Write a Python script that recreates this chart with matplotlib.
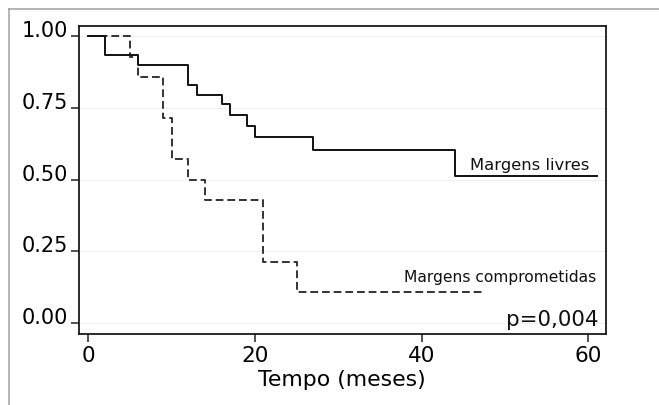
import matplotlib
matplotlib.use("Agg")
import matplotlib.pyplot as plt
from matplotlib.lines import Line2D

# Kaplan-Meier step data
livres_t = [0, 2, 6, 12, 13, 16, 17, 19, 20, 27, 44]
livres_s = [1.00, 0.935, 0.900, 0.830, 0.796, 0.763, 0.726, 0.686, 0.650, 0.603, 0.514]
livres_end = 61.1

compr_t = [0, 5, 6, 9, 10, 12, 14, 21, 25]
compr_s = [1.00, 0.929, 0.857, 0.714, 0.571, 0.500, 0.429, 0.214, 0.107]
compr_end = 47.6

x_ticks = [0, 20, 40, 60]
y_ticks = [0.00, 0.25, 0.50, 0.75, 1.00]
y_ticklabels = ["0.00", "0.25", "0.50", "0.75", "1.00"]

label_livres = "Margens livres"
label_compr = "Margens comprometidas"
p_text = "p=0,004"
x_label = "Tempo (meses)"

plt.rcParams['font.family'] = ['DejaVu Sans']

fig = plt.figure(figsize=(6.59, 4.06), dpi=100)
ax = fig.add_axes([0.1199, 0.1749, 0.7992, 0.7593])

# faint gridlines
for yv in y_ticks:
    ax.axhline(yv, color='#f0f0f0', lw=0.8, zorder=0)

ax.step(livres_t + [livres_end], livres_s + [livres_s[-1]], where='post',
        color='#111111', lw=1.4, zorder=3)
ax.step(compr_t + [compr_end], compr_s + [compr_s[-1]], where='post',
        color='#333333', lw=1.4, linestyle=(0, (4.0, 2.0)), zorder=2)

ax.set_xlim(-1.1, 62.1)
ax.set_ylim(-0.038, 1.037)

ax.set_xticks(x_ticks)
ax.set_xticklabels([str(v) for v in x_ticks])
ax.set_yticks(y_ticks)
ax.set_yticklabels(y_ticklabels)
ax.tick_params(axis='x', direction='out', length=6, width=1.1, labelsize=15.5,
               pad=2, color='#222222')
ax.tick_params(axis='y', direction='out', length=6, width=1.1, labelsize=15,
               pad=2, color='#222222')
for lab in ax.get_yticklabels():
    lab.set_verticalalignment('baseline')

for sp in ax.spines.values():
    sp.set_linewidth(1.3)
    sp.set_color('#1a1a1a')

ax.set_xlabel(x_label, fontsize=15.8, labelpad=3)

ax.text(60.2, 0.537, label_livres, ha='right', va='baseline', fontsize=11.8, color='#111111')
ax.text(61.0, 0.146, label_compr, ha='right', va='baseline', fontsize=11.2, color='#111111')
ax.text(61.2, -0.006, p_text, ha='right', va='baseline', fontsize=15.4, color='#111111')

# outer gray frame (top and left)
fy = 1 - 10.3 / 406
fx = 9 / 659
fig.add_artist(Line2D([fx, 1.0], [fy, fy], transform=fig.transFigure, color='#a0a0a0', lw=1.1))
fig.add_artist(Line2D([fx, fx], [0.0, fy], transform=fig.transFigure, color='#a0a0a0', lw=1.1))

fig.savefig("out.png", dpi=100)
